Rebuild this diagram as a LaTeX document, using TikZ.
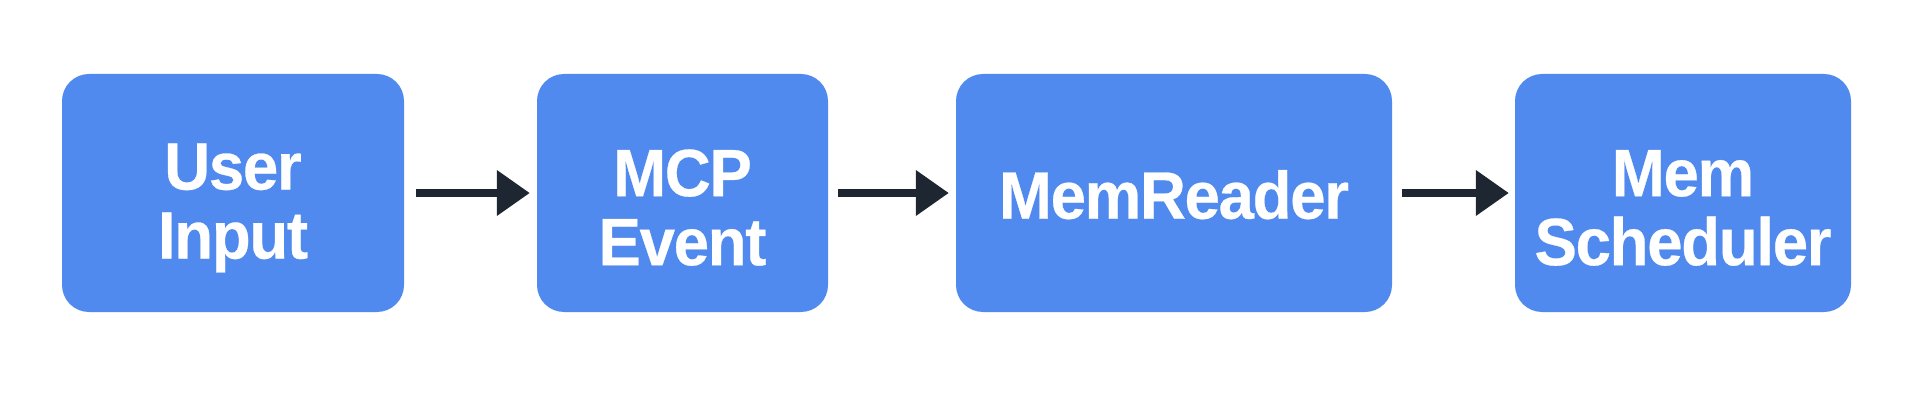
\documentclass[tikz,border=0pt]{standalone}
\usepackage{fontspec}
\setmainfont{Liberation Sans}
\newfontfamily\boxfont{Liberation Sans Bold}[FakeStretch=0.95, LetterSpace=-2, FakeBold=0.4]
\usetikzlibrary{arrows.meta}
\definecolor{boxblue}{RGB}{81,138,238}
\definecolor{arrowdark}{RGB}{30,39,49}
\newcommand{\twolinetop}{\rule{0pt}{76pt}}
\newcommand{\onelinetop}{\rule{0pt}{52pt}}
\begin{document}
\begin{tikzpicture}[x=1pt,y=-1pt,
  box/.style={rectangle, rounded corners=27pt, fill=boxblue, draw=none,
    minimum height=238pt, inner sep=0pt, text=white, align=center,
    font=\boxfont\fontsize{67}{69}\selectfont},
  conn/.style={draw=arrowdark, line width=7.5pt, -{Triangle[length=33pt,width=44pt]}, arrowdark}
]
\useasboundingbox (0,0) rectangle (1928,398);
\node[box, minimum width=342pt] (b1) at (233,193) {\twolinetop User\\Input};
\node[box, minimum width=291pt] (b2) at (682.5,193) {\twolinetop MCP\\Event};
\node[box, minimum width=436pt] (b3) at (1174,193) {\onelinetop MemReader};
\node[box, minimum width=336pt] (b4) at (1683,193) {\twolinetop Mem\\Scheduler};
\draw[conn] ([xshift=12pt]b1.east) -- ([xshift=-7pt]b2.west);
\draw[conn] ([xshift=10pt]b2.east) -- ([xshift=-7pt]b3.west);
\draw[conn] ([xshift=10pt]b3.east) -- ([xshift=-6pt]b4.west);
\end{tikzpicture}
\end{document}
